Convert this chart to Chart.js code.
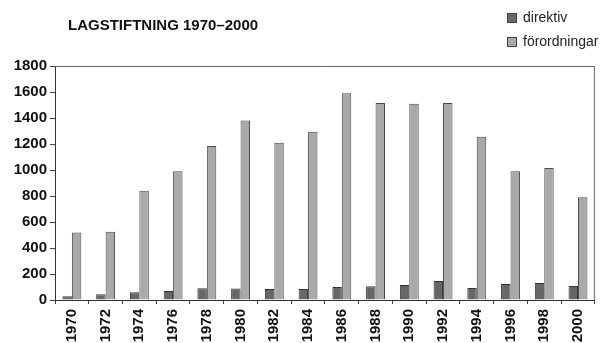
<!DOCTYPE html>
<html>
<head>
<meta charset="utf-8">
<script src="https://cdn.jsdelivr.net/npm/chart.js@4"></script>
<style>
  html, body { margin: 0; padding: 0; background: #fff; }
  #wrap { width: 601px; height: 343px; position: relative; }
</style>
</head>
<body>
<div id="wrap"><canvas id="c" width="601" height="343"></canvas></div>
<script>
const titleText = 'LAGSTIFTNING 1970–2000';
const years = ['1970','1972','1974','1976','1978','1980','1982','1984','1986','1988','1990','1992','1994','1996','1998','2000'];
const direktiv = [28, 45, 60, 70, 90, 88, 85, 85, 100, 105, 115, 146, 92, 123, 130, 108];
const forordningar = [520, 525, 840, 990, 1185, 1380, 1210, 1295, 1590, 1515, 1510, 1515, 1255, 990, 1015, 790];
const seriesLabels = ['direktiv', 'förordningar'];
const yTicks = [0, 200, 400, 600, 800, 1000, 1200, 1400, 1600, 1800];

const FONT = '"Liberation Sans", Arial, Helvetica, sans-serif';

const decor = {
  id: 'decor',
  afterDraw(chart) {
    const ctx = chart.ctx;
    const a = chart.chartArea;
    ctx.save();
    // plot frame: top and right lines
    ctx.strokeStyle = '#666';
    ctx.lineWidth = 1;
    ctx.beginPath();
    ctx.moveTo(a.left, a.top + 0.5);
    ctx.lineTo(a.right, a.top + 0.5);
    ctx.moveTo(a.right - 0.5, a.top);
    ctx.lineTo(a.right - 0.5, a.bottom);
    ctx.stroke();
    // title
    ctx.fillStyle = '#111';
    ctx.font = 'bold 15px ' + FONT;
    ctx.textBaseline = 'middle';
    ctx.textAlign = 'left';
    ctx.fillText(titleText, 68, 26);
    // legend
    ctx.font = '14px ' + FONT;
    chart.data.datasets.forEach((ds, i) => {
      const by = 13 + i * 24;
      ctx.fillStyle = ds.backgroundColor;
      ctx.fillRect(507, by, 10, 10);
      ctx.strokeStyle = '#444';
      ctx.strokeRect(507.5, by + 0.5, 9, 9);
      ctx.fillStyle = '#222';
      ctx.fillText(ds.label, 523, by + 5);
    });
    ctx.restore();
  }
};

new Chart(document.getElementById('c'), {
  type: 'bar',
  data: {
    labels: years,
    datasets: [
      {
        label: seriesLabels[0],
        data: direktiv,
        backgroundColor: '#676767',
        borderColor: '#333',
        borderWidth: 1,
        borderSkipped: 'bottom',
        barPercentage: 1.0,
        categoryPercentage: 0.56
      },
      {
        label: seriesLabels[1],
        data: forordningar,
        backgroundColor: '#a9a9a9',
        borderColor: '#4a4a4a',
        borderWidth: 1,
        borderSkipped: 'bottom',
        barPercentage: 1.0,
        categoryPercentage: 0.56
      }
    ]
  },
  options: {
    responsive: false,
    animation: false,
    devicePixelRatio: 1,
    layout: { padding: { top: 66, right: 0, left: 0, bottom: 0 } },
    plugins: {
      legend: { display: false },
      title: { display: false },
      tooltip: { enabled: false }
    },
    scales: {
      x: {
        offset: true,
        grid: {
          display: true,
          offset: true,
          drawOnChartArea: false,
          drawTicks: true,
          tickLength: 4,
          color: '#444'
        },
        border: { display: true, color: '#333', width: 1 },
        ticks: {
          minRotation: 90,
          maxRotation: 90,
          autoSkip: false,
          padding: 5,
          color: '#111',
          font: { family: FONT, size: 15, weight: 'bold' }
        },
        afterFit(scale) { scale.height = 43; }
      },
      y: {
        min: 0,
        max: 1800,
        afterBuildTicks(scale) { scale.ticks = yTicks.map(v => ({ value: v })); },
        grid: {
          display: true,
          drawOnChartArea: false,
          drawTicks: true,
          tickLength: 5,
          color: '#444'
        },
        border: { display: true, color: '#333', width: 1 },
        ticks: {
          padding: 3,
          color: '#111',
          font: { family: FONT, size: 15, weight: 'bold' },
          callback: (v) => String(v)
        },
        afterFit(scale) { scale.width = 55; }
      }
    }
  },
  plugins: [decor]
});
</script>
</body>
</html>
